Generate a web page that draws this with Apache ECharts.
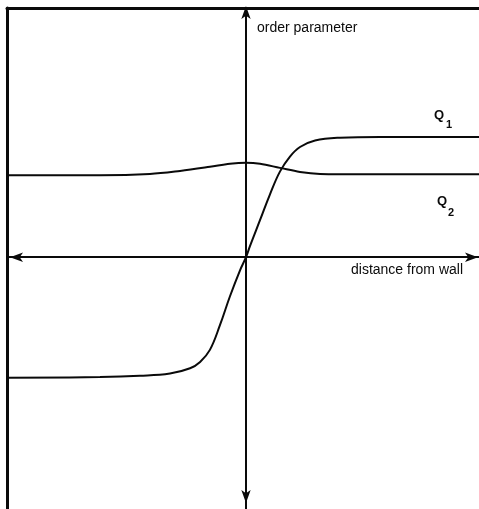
<!DOCTYPE html>
<html>
<head>
<meta charset="utf-8">
<script src="https://cdn.jsdelivr.net/npm/echarts@6/dist/echarts.min.js"></script>
<style>
  html, body { margin: 0; padding: 0; background: #fff; }
  #chart { width: 479px; height: 509px; }
</style>
</head>
<body>
<div id="chart"></div>
<script>
// Distance from the wall (arbitrary units, wall interface at 0)
const q1Distance = [-1.0, -0.611, -0.444, -0.318, -0.234, -0.192, -0.151, -0.109, -0.067, -0.025, 0, 0.017, 0.059, 0.100, 0.142, 0.184, 0.226, 0.289, 0.393, 0.561, 0.975];
// Order parameter Q1: switches sign across the interface
const q1Values = [-0.479, -0.476, -0.471, -0.462, -0.441, -0.416, -0.368, -0.270, -0.155, -0.052, 0, 0.045, 0.148, 0.249, 0.340, 0.400, 0.438, 0.464, 0.475, 0.478, 0.478];

const q2Distance = [-1.0, -0.611, -0.402, -0.276, -0.151, -0.067, 0, 0.059, 0.142, 0.226, 0.310, 0.393, 0.975];
// Order parameter Q2: nearly constant with a small bump at the interface
const q2Values = [0.326, 0.326, 0.331, 0.343, 0.359, 0.371, 0.375, 0.371, 0.355, 0.339, 0.331, 0.330, 0.330];

const xRange = [-1, 0.975];
const yRange = [-1, 0.99];

const axisLabels = { y: 'order parameter', x: 'distance from wall' };
const seriesNames = ['Q1', 'Q2'];

const ink = '#0a0a0a';
const chart = echarts.init(document.getElementById('chart'), null, { renderer: 'canvas' });

const toPairs = (xs, ys) => xs.map((x, i) => [x, ys[i]]);

const hiddenParts = {
  axisTick: { show: false },
  axisLabel: { show: false },
  splitLine: { show: false }
};

chart.setOption({
  animation: false,
  backgroundColor: '#ffffff',
  grid: { left: 7, right: 0, top: 8, bottom: 0, containLabel: false },
  xAxis: [
    {
      type: 'value', min: xRange[0], max: xRange[1],
      axisLine: {
        onZero: true,
        symbol: ['arrow', 'arrow'],
        symbolSize: [7, 13],
        symbolOffset: [3, -1],
        lineStyle: { color: ink, width: 2 }
      },
      ...hiddenParts
    },
    {
      // frame line along the top
      type: 'value', position: 'top', min: xRange[0], max: xRange[1],
      axisLine: { onZero: false, lineStyle: { color: ink, width: 3 } },
      ...hiddenParts
    }
  ],
  yAxis: [
    {
      type: 'value', min: yRange[0], max: yRange[1],
      axisLine: {
        onZero: true,
        symbol: ['arrow', 'arrow'],
        symbolSize: [7, 13],
        symbolOffset: [6, 2],
        lineStyle: { color: ink, width: 2 }
      },
      ...hiddenParts
    },
    {
      // frame line along the left side
      type: 'value', position: 'left', min: yRange[0], max: yRange[1],
      axisLine: { onZero: false, lineStyle: { color: ink, width: 3 } },
      ...hiddenParts
    }
  ],
  series: [
    {
      name: seriesNames[0], type: 'line', xAxisIndex: 0, yAxisIndex: 0,
      data: toPairs(q1Distance, q1Values),
      smooth: 0.4, showSymbol: false,
      lineStyle: { color: ink, width: 2 }
    },
    {
      name: seriesNames[1], type: 'line', xAxisIndex: 0, yAxisIndex: 0,
      data: toPairs(q2Distance, q2Values),
      smooth: 0.35, showSymbol: false,
      lineStyle: { color: ink, width: 2 }
    }
  ],
  graphic: [
    {
      type: 'text', left: 257, top: 21,
      style: { text: axisLabels.y, fill: ink, font: '14px "Liberation Sans", Arial, sans-serif' }
    },
    {
      type: 'text', left: 351, top: 263,
      style: { text: axisLabels.x, fill: ink, font: '14px "Liberation Sans", Arial, sans-serif' }
    },
    {
      type: 'text', left: 434, top: 109,
      style: {
        text: '{q|Q}{s|1}',
        rich: {
          q: { fill: ink, font: 'bold 13px "Liberation Sans", Arial, sans-serif', verticalAlign: 'top' },
          s: { fill: ink, font: 'bold 11px "Liberation Sans", Arial, sans-serif', padding: [10, 0, 0, 2] }
        }
      }
    },
    {
      type: 'text', left: 437, top: 195,
      style: {
        text: '{q|Q}{s|2}',
        rich: {
          q: { fill: ink, font: 'bold 13px "Liberation Sans", Arial, sans-serif', verticalAlign: 'top' },
          s: { fill: ink, font: 'bold 11px "Liberation Sans", Arial, sans-serif', padding: [12, 0, 0, 1] }
        }
      }
    }
  ]
});
</script>
</body>
</html>
